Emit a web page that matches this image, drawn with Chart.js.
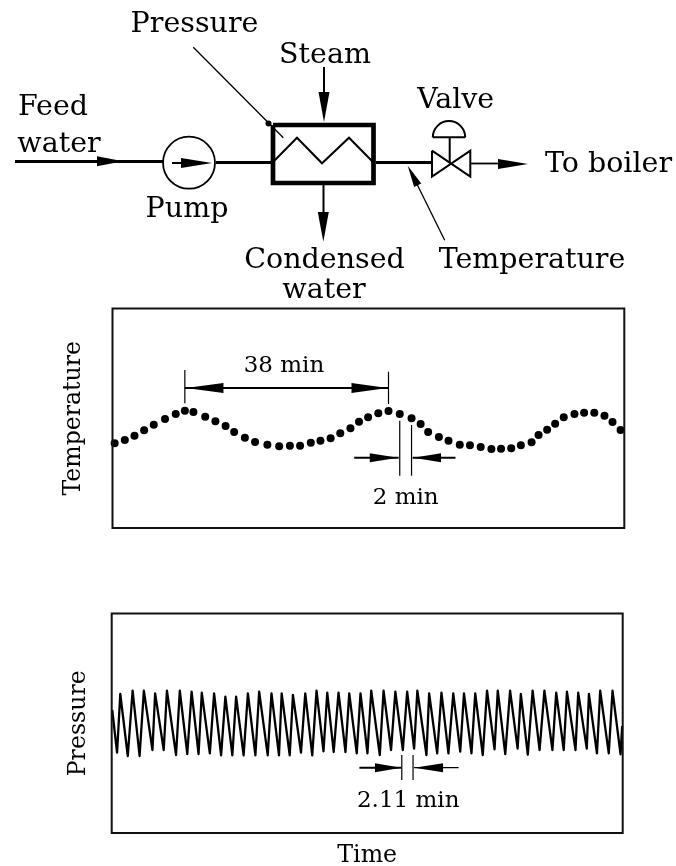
<!DOCTYPE html>
<html>
<head>
<meta charset="utf-8">
<title>Feed water heater oscillations</title>
<script src="https://cdn.jsdelivr.net/npm/chart.js@4/dist/chart.umd.min.js"></script>
<style>
html, body { margin: 0; padding: 0; background: #fff; }
body { width: 676px; height: 866px; position: relative; overflow: hidden; }
canvas { position: absolute; left: 0; }
#diagram { top: 0; }
#tempChart { top: 300px; }
#pressChart { top: 600px; }
</style>
</head>
<body>
<canvas id="diagram" width="676" height="300"></canvas>
<canvas id="tempChart" width="676" height="240"></canvas>
<canvas id="pressChart" width="676" height="268"></canvas>
<script>
// sampled temperature, time in minutes, value is arbitrary (no ticks in the figure)
let tempTimes = [0.4, 2.3, 4.1, 5.9, 7.7, 9.8, 11.8, 13.5, 15.1, 17.3, 19.2, 21.1, 22.7, 24.7, 26.6, 28.9, 31.1, 33.1, 35.0, 37.0, 38.8, 40.7, 42.5, 44.4, 46.0, 47.7,
    49.6, 51.5, 53.6, 55.8, 57.5, 58.9, 60.9, 62.7, 64.8, 66.7, 68.7, 70.7, 72.5, 74.4, 76.2, 78.2, 79.5, 81.1, 82.6, 84.2, 86.2, 88.0, 89.9, 91.8, 93.3, 94.8];
let tempValues = [54.7, 58, 62.3, 67.7, 73.3, 79, 84, 87.3, 86, 81.3, 76.7, 72, 66, 60.3, 56, 53.3, 51.7, 52.3, 52.3, 55.3, 57.3, 59.7, 64.7, 69.7, 76.3, 80.7,
    84.7, 87, 84, 79.7, 74, 66, 61, 57.3, 53.3, 52.7, 51, 49, 49.3, 49.7, 52.7, 55.7, 63, 68.3, 74.3, 80.7, 84, 85.3, 85.3, 82.3, 76, 68];

// pressure zigzag, turning points only
let pressTimes = [0.1, 1.0, 1.6, 3.0, 3.9, 5.2, 6.0, 7.6, 8.1, 9.7, 10.3, 12.0, 12.7, 14.1, 14.9, 16.2, 16.8, 18.3, 19.1, 20.4, 21.2, 22.5, 23.2, 24.6, 25.4, 26.8, 27.5, 29.1, 29.8, 31.2, 31.7, 33.2, 33.8, 35.3, 36.1, 37.4, 38.2, 39.5, 40.2, 41.4, 42.3, 43.6, 44.3, 45.7, 46.4, 47.7,
    48.4, 50.0, 50.7, 52.1, 52.9, 54.3, 55.1, 56.4, 57.0, 58.7, 59.2, 60.7, 61.5, 62.8, 63.7, 65.0, 65.7, 67.1, 67.8, 69.2, 70.0, 71.4, 72.0, 73.4, 74.3, 75.7, 76.3, 77.6, 78.5, 79.8, 80.7, 82.2, 82.9, 84.3, 84.9, 86.5, 87.0, 88.6, 89.0, 90.5, 91.1, 92.7, 93.4, 94.9, 95.2];
let pressValues = [123, 80.3, 139, 77, 142.3, 77, 142.3, 83, 139.7, 83, 142.3, 78, 142.3, 79, 141.3, 79, 140.3, 79.7, 139.7, 77.7, 136.3, 77.7, 136.3, 77.7, 139.7, 77.7, 141.3, 77.7, 139.7, 77.7, 139.7, 77.7, 138, 80.3, 139.7, 77.7, 142.3, 81.7, 140.3, 81, 140.3, 81, 139.7, 79.7, 139.7, 79.7,
    142.3, 78, 142.3, 83, 141.3, 83, 141.3, 84.3, 142.3, 78, 139.7, 79.7, 140.3, 79.7, 139.7, 81.3, 139.7, 79.7, 139.7, 78, 142.3, 83.7, 142.3, 79, 142.3, 84.3, 139, 78.3, 142.3, 83, 142.3, 83, 140.3, 83, 141.3, 83, 140.3, 84.3, 139, 79.7, 142.3, 79.7, 142.3, 78.7, 107];

// measured markers on the charts: [x1, y1, x2, y2, width]
let tempLines = [
    [13.5, 128, 13.5, 94.7, 1.2], [51.5, 126.3, 51.5, 94, 1.2], [13.5, 110, 51.5, 110, 2],
    [53.6, 77.3, 53.6, 22.3, 1.2], [55.8, 73, 55.8, 22.3, 1.2],
    [45.1, 40.3, 53.4, 40.3, 2], [64, 40.3, 56, 40.3, 2]
];
let tempHeads = [
    [13.7, 110, 20.7, 110, 5], [51.3, 110, 44.6, 110, 5],
    [53.3, 40.3, 48, 40.3, 4.5], [56.1, 40.3, 61.3, 40.3, 4.5]
];
let tempNotes = [["38 min", 32, 126], ["2 min", 54.7, -6]];

let pressLines = [
    [54.1, 78, 54.1, 53, 1.2], [56.2, 78, 56.2, 53, 1.2],
    [46.2, 65.3, 54, 65.3, 2], [64.7, 65.3, 56.4, 65.3, 1.3]
];
let pressHeads = [[54, 65.3, 49.1, 65.3, 4.5], [56.4, 65.3, 61.8, 65.3, 4.5]];
let pressNotes = [["2.11 min", 55.3, 26]];

// process diagram, units are the diagram scale
let feedPipe = [[15, 161.5], [163, 161.5]];
let pumpArrowLine = [[172, 163], [190, 163]];
let pumpPipe = [[216, 162.5], [272, 162.5]];
let heaterBox = [[273, 125], [373.5, 125], [373.5, 183], [273, 183], [273, 125]];
let coil = [[273.3, 161.7], [297, 137.7], [322, 163.3], [349, 137.7], [372.7, 161.7]];
let outPipe = [[376, 162.5], [431, 162.5]];
let pressureLeader = [[193.3, 47.3], [283.3, 137.7]];
let temperatureLeader = [[444.7, 240.3], [410, 170]];
let steamLine = [[324, 67], [324, 100]];
let condensedLine = [[323.5, 185], [323.5, 220]];
let valveBody = [[432, 150.7], [470.3, 176.7], [470.3, 150.7], [432, 176.7], [432, 150.7]];
let valveStem = [[449.7, 162.7], [449.7, 137.5]];
let domeBase = [[432.7, 137.3], [465.3, 137.3]];
let boilerLine = [[471, 163.5], [500, 163.5]];
let pumpCentre = [[189, 162.7]];
let pressureTap = [[268.5, 123.5]];

let diagramHeads = [
    [123, 161.3, 97, 161.3, 5], [212, 163, 181, 163, 5],
    [324, 122, 324, 92, 5.5], [323.3, 241.7, 323.3, 212, 5.5],
    [528, 164, 498, 164, 5], [407.7, 165.7, 417.7, 185.3, 4]
];
let diagramLabels = [
    ["Pressure", 194.5, 32], ["Steam", 325, 63], ["Feed", 53, 115], ["water", 59, 152],
    ["Pump", 187, 216.7], ["Condensed", 324.5, 268], ["water", 324, 298], ["Valve", 455.7, 108],
    ["To boiler", 608.5, 172], ["Temperature", 532, 268]
];

let serif = "'DejaVu Serif', serif";

function head(ctx, sx, sy, h) {
    let tx = sx.getPixelForValue(h[0]), ty = sy.getPixelForValue(h[1]);
    let bx = sx.getPixelForValue(h[2]), by = sy.getPixelForValue(h[3]);
    let len = Math.hypot(tx - bx, ty - by);
    let nx = -(ty - by) / len * h[4], ny = (tx - bx) / len * h[4];
    ctx.fillStyle = "#000";
    ctx.beginPath();
    ctx.moveTo(tx, ty);
    ctx.lineTo(bx + nx, by + ny);
    ctx.lineTo(bx - nx, by - ny);
    ctx.closePath();
    ctx.fill();
}

function texts(ctx, sx, sy, list, size) {
    ctx.fillStyle = "#000";
    ctx.font = size + "px " + serif;
    ctx.textAlign = "center";
    ctx.textBaseline = "alphabetic";
    list.forEach(t => ctx.fillText(t[0], sx.getPixelForValue(t[1]), sy.getPixelForValue(t[2])));
}

// frame around plot, dimension lines, arrow heads and notes
function panelPlugin(lines, heads, notes) {
    return {
        id: "panel",
        afterDraw(chart) {
            let ctx = chart.ctx, a = chart.chartArea, sx = chart.scales.x, sy = chart.scales.y;
            ctx.save();
            ctx.strokeStyle = "#111";
            ctx.lineWidth = 2;
            ctx.strokeRect(a.left, a.top, a.right - a.left, a.bottom - a.top);
            ctx.strokeStyle = "#000";
            lines.forEach(l => {
                ctx.lineWidth = l[4];
                ctx.beginPath();
                ctx.moveTo(sx.getPixelForValue(l[0]), sy.getPixelForValue(l[1]));
                ctx.lineTo(sx.getPixelForValue(l[2]), sy.getPixelForValue(l[3]));
                ctx.stroke();
            });
            heads.forEach(h => head(ctx, sx, sy, h));
            texts(ctx, sx, sy, notes, 23);
            ctx.restore();
        }
    };
}

function path(points, width) {
    return {
        data: points.map(p => ({ x: p[0], y: p[1] })),
        showLine: true,
        borderColor: "#000",
        borderWidth: width,
        pointRadius: 0,
        borderJoinStyle: "miter",
        tension: 0,
        clip: false
    };
}

new Chart(document.getElementById("diagram").getContext("2d"), {
    type: "scatter",
    data: {
        datasets: [
            path(pumpArrowLine, 2),
            {
                data: pumpCentre.map(p => ({ x: p[0], y: p[1] })),
                pointRadius: 26,
                pointBorderWidth: 1.8,
                pointBorderColor: "#000",
                pointBackgroundColor: "#fff",
                clip: false
            },
            {
                data: pressureTap.map(p => ({ x: p[0], y: p[1] })),
                pointRadius: 3,
                pointBackgroundColor: "#000",
                pointBorderWidth: 0,
                clip: false
            },
            path(feedPipe, 3), path(pumpPipe, 3),
            path(heaterBox, 4.7), path(coil, 2), path(outPipe, 3),
            path(pressureLeader, 1.3), path(temperatureLeader, 1.3),
            path(steamLine, 2), path(condensedLine, 2),
            path(valveBody, 2), path(valveStem, 2), path(domeBase, 2), path(boilerLine, 1.8)
        ]
    },
    options: {
        responsive: false,
        animation: false,
        layout: { padding: 0, autoPadding: false },
        plugins: { legend: { display: false }, tooltip: { enabled: false } },
        scales: {
            x: { type: "linear", display: false, min: 0, max: 676 },
            y: { type: "linear", display: false, min: 0, max: 300, reverse: true }
        }
    },
    plugins: [{
        id: "diagramExtras",
        afterDraw(chart) {
            let ctx = chart.ctx, sx = chart.scales.x, sy = chart.scales.y;
            ctx.save();
            diagramHeads.forEach(h => head(ctx, sx, sy, h));
            // valve actuator dome
            ctx.strokeStyle = "#000";
            ctx.lineWidth = 2;
            ctx.beginPath();
            ctx.arc(sx.getPixelForValue(449), sy.getPixelForValue(137.3), 16.2, Math.PI, 0);
            ctx.stroke();
            texts(ctx, sx, sy, diagramLabels, 28.5);
            ctx.restore();
        }
    }]
});

new Chart(document.getElementById("tempChart").getContext("2d"), {
    type: "scatter",
    data: {
        datasets: [{
            data: tempTimes.map((t, i) => ({ x: t, y: tempValues[i] })),
            pointRadius: 4,
            pointBackgroundColor: "#000",
            pointBorderWidth: 0,
            clip: false
        }]
    },
    options: {
        responsive: false,
        animation: false,
        layout: { padding: { left: 59.5, right: 51.7, top: 8.5, bottom: 12 }, autoPadding: false },
        plugins: { legend: { display: false }, tooltip: { enabled: false } },
        scales: {
            x: { type: "linear", display: false, min: 0, max: 95.5 },
            y: {
                type: "linear", min: -30, max: 189.5,
                grid: { display: false }, border: { display: false },
                ticks: { display: false },
                title: { display: true, text: "Temperature", color: "#000", padding: 0, font: { family: serif, size: 23.6 } },
                afterFit(scale) { scale.width = 53; }
            }
        }
    },
    plugins: [panelPlugin(tempLines, tempHeads, tempNotes)]
});

new Chart(document.getElementById("pressChart").getContext("2d"), {
    type: "scatter",
    data: {
        datasets: [{
            data: pressTimes.map((t, i) => ({ x: t, y: pressValues[i] })),
            showLine: true,
            borderColor: "#000",
            borderWidth: 2.3,
            borderJoinStyle: "round",
            pointRadius: 0,
            tension: 0,
            clip: false
        }]
    },
    options: {
        responsive: false,
        animation: false,
        layout: { padding: { left: 65, right: 53.3, top: 13.5, bottom: 0 }, autoPadding: false },
        plugins: { legend: { display: false }, tooltip: { enabled: false } },
        scales: {
            x: {
                type: "linear", min: 0, max: 95.3,
                grid: { display: false }, border: { display: false },
                ticks: { display: false },
                title: { display: true, text: "Time", color: "#000", padding: 0, font: { family: serif, size: 23.7, lineHeight: 1 } },
                afterFit(scale) { scale.height = 35; }
            },
            y: {
                type: "linear", min: 0, max: 219.5,
                grid: { display: false }, border: { display: false },
                ticks: { display: false },
                title: { display: true, text: "Pressure", color: "#000", padding: 0, font: { family: serif, size: 23.7 } },
                afterFit(scale) { scale.width = 46.7; }
            }
        }
    },
    plugins: [panelPlugin(pressLines, pressHeads, pressNotes)]
});
</script>
</body>
</html>
